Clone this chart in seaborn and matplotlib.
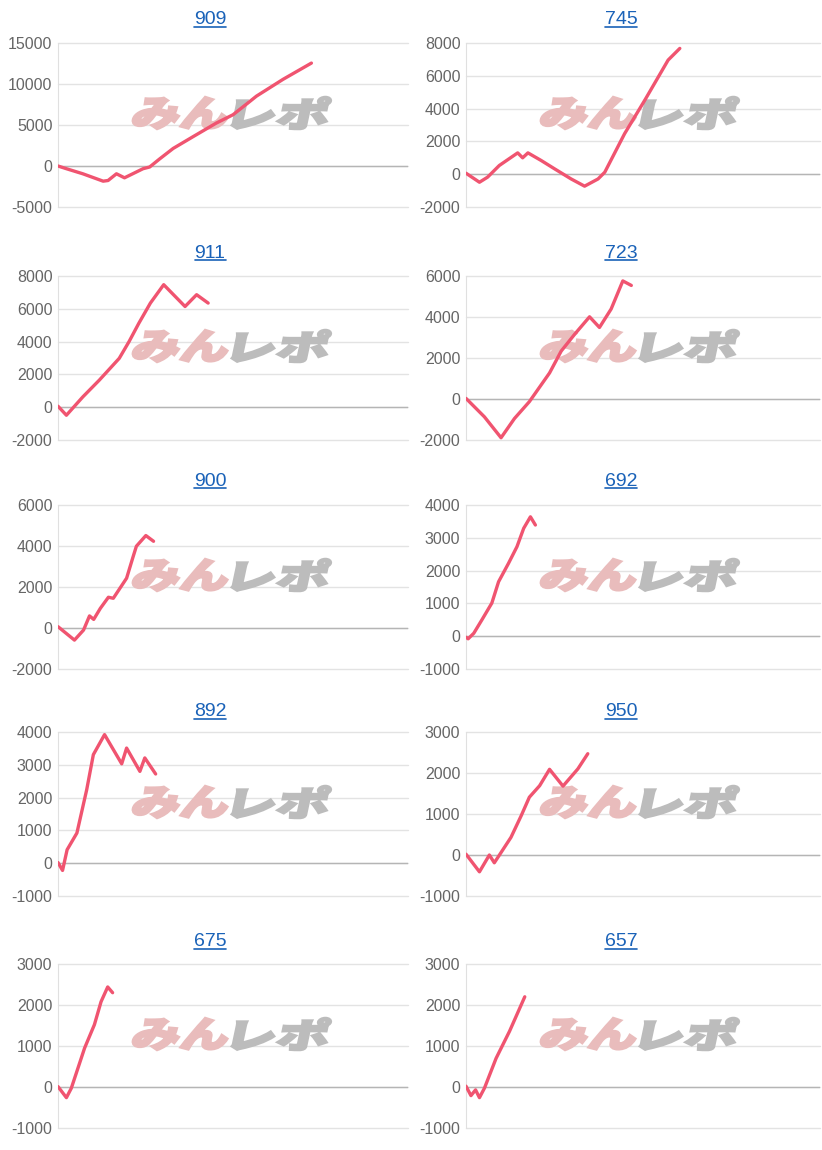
import matplotlib
matplotlib.use("Agg")
import matplotlib.pyplot as plt
import seaborn as sns
from matplotlib.textpath import TextPath
from matplotlib.font_manager import FontProperties
from matplotlib.patches import PathPatch
from matplotlib.transforms import Affine2D
from matplotlib.lines import Line2D

# machine numbers (panel titles)
titles = ["909", "745", "911", "723", "900", "692", "892", "950", "675", "657"]

# difference curves, x = progress (0-100 of the axis), y = coins
x_909 = [0, 2.4, 7.1, 12.9, 14.3, 16.7, 19.0, 24.3, 26.2, 29.0, 32.9, 38.6, 41.4, 45.2, 50.0, 53.8, 56.7, 64.3, 72.4]
y_909 = [0, -330, -950, -1850, -1770, -950, -1440, -330, -120, 850, 2140, 3580, 4280, 5230, 6250, 7530, 8520, 10570, 12550]

x_745 = [0, 3.8, 6.1, 9.4, 14.6, 16.0, 17.5, 21.2, 25.0, 29.7, 33.5, 37.3, 39.2, 44.8, 50.5, 57.1, 60.4]
y_745 = [60, -490, -180, 530, 1300, 1000, 1300, 840, 330, -290, -730, -290, 120, 2470, 4510, 6960, 7670]

x_911 = [0, 2.4, 7.1, 11.8, 17.5, 20.3, 23.1, 26.4, 30.2, 36.3, 39.6, 42.9]
y_911 = [60, -490, 630, 1650, 2980, 4000, 5120, 6350, 7470, 6140, 6860, 6350]

x_723 = [0, 5.2, 9.9, 13.7, 17.9, 23.6, 26.9, 30.7, 34.9, 37.7, 41.0, 44.3, 46.7]
y_723 = [30, -870, -1890, -950, -130, 1270, 2340, 3160, 4010, 3490, 4390, 5760, 5540]

x_900 = [0, 4.7, 7.3, 9.0, 10.2, 12.1, 14.4, 15.8, 19.6, 21.5, 22.4, 25.1, 27.3]
y_900 = [65, -590, -100, 590, 420, 960, 1500, 1450, 2430, 3500, 3990, 4510, 4230]

x_692 = [0, 0.6, 2.2, 4.5, 7.3, 9.2, 12.0, 14.4, 16.3, 18.2, 19.6]
y_692 = [-30, -80, 90, 500, 1010, 1660, 2220, 2730, 3290, 3640, 3390]

x_892 = [0, 1.3, 2.6, 5.4, 8.2, 10.1, 13.3, 18.2, 19.6, 23.4, 24.8, 27.9]
y_892 = [20, -220, 410, 920, 2240, 3310, 3920, 3030, 3510, 2800, 3210, 2720]

x_950 = [0, 3.8, 6.6, 8.0, 12.7, 15.6, 17.9, 20.8, 23.6, 27.4, 31.6, 34.4]
y_950 = [20, -410, 0, -190, 430, 960, 1410, 1690, 2090, 1680, 2100, 2470]

x_675 = [0, 2.4, 3.8, 7.6, 10.4, 12.3, 14.2, 15.6]
y_675 = [10, -260, -30, 950, 1520, 2080, 2440, 2300]

x_657 = [0, 1.4, 2.7, 3.8, 5.2, 8.5, 12.3, 16.6]
y_657 = [20, -210, -70, -260, -30, 700, 1360, 2200]

xs = [x_909, x_745, x_911, x_723, x_900, x_692, x_892, x_950, x_675, x_657]
ys = [y_909, y_745, y_911, y_723, y_900, y_692, y_892, y_950, y_675, y_657]

# y axis ranges
y_min = [-5000, -2000, -2000, -2000, -2000, -1000, -1000, -1000, -1000, -1000]
y_max = [15000, 8000, 8000, 6000, 6000, 4000, 4000, 3000, 3000, 3000]
y_step = [5000, 2000, 2000, 2000, 2000, 1000, 1000, 1000, 1000, 1000]

sns.set_style("white")
plt.rcParams["font.family"] = ["Liberation Sans", "DejaVu Sans"]
plt.rcParams["axes.unicode_minus"] = False

W, H = 822, 1150
fig = plt.figure(figsize=(W / 100, H / 100), dpi=100)

line_color = "#f05470"
blue = "#1a62b8"
row_tops = [43, 276, 505, 732, 964]
ax_h = 164
col_left = [58, 466]
col_w = [350, 354]
title_cx = [210, 621]
title_cy = [20, 254, 482, 712, 942]

wm_font = FontProperties(family="Noto Sans CJK JP", weight="heavy")


def watermark(ax, axw, axh):
    for txt, col, left in [("みん", "#e9bcbc", 73), ("レポ", "#bcbcbc", 173)]:
        tp = TextPath((0, 0), txt, size=1, prop=wm_font)
        ext = tp.get_extents()
        tr = (Affine2D().translate(-ext.x0, -ext.y0)
              .scale(94 / ext.width, 32 / ext.height)
              .skew_deg(12, 0)
              .scale(1 / axw, 1 / axh)
              .translate(left / axw, 78 / axh) + ax.transAxes)
        ax.add_patch(PathPatch(tp, transform=tr, facecolor=col,
                               edgecolor=col, linewidth=1.8, zorder=1.5))


title_texts = []
for i in range(10):
    r, c = divmod(i, 2)
    left = col_left[c]
    top = row_tops[r]
    ax = fig.add_axes([left / W, 1 - (top + ax_h) / H, col_w[c] / W, ax_h / H])
    sns.lineplot(x=xs[i], y=ys[i], ax=ax, color=line_color, linewidth=2.4,
                 sort=False, estimator=None, zorder=3)
    ax.set_xlim(0, 100)
    ax.set_ylim(y_min[i], y_max[i])
    ax.set_yticks(range(y_min[i], y_max[i] + 1, y_step[i]))
    ax.set_xticks([])
    ax.set_xlabel("")
    ax.set_ylabel("")
    ax.set_axisbelow(True)
    ax.grid(axis="y", color="#e3e3e3", linewidth=1, clip_on=False)
    ax.axhline(0, color="#b5b5b5", linewidth=1, zorder=1)
    for s in ["top", "right", "bottom"]:
        ax.spines[s].set_visible(False)
    ax.spines["left"].set_color("#e0e0e0")
    ax.tick_params(axis="y", length=0, pad=4, labelsize=11.5, labelcolor="#666666")
    watermark(ax, col_w[c], ax_h)

    t = fig.text(title_cx[c] / W, 1 - title_cy[r] / H, titles[i], ha="center",
                 va="center", fontsize=14, color=blue)
    title_texts.append(t)

# underline the titles like links
fig.canvas.draw()
inv = fig.transFigure.inverted()
for t in title_texts:
    bb = t.get_window_extent()
    (x0, y0), (x1, _) = inv.transform([(bb.x0, bb.y0 + 2), (bb.x1, bb.y0 + 2)])
    fig.add_artist(Line2D([x0, x1], [y0, y0], color=blue, linewidth=1.2,
                          transform=fig.transFigure))

fig.savefig("out.png", dpi=100)
